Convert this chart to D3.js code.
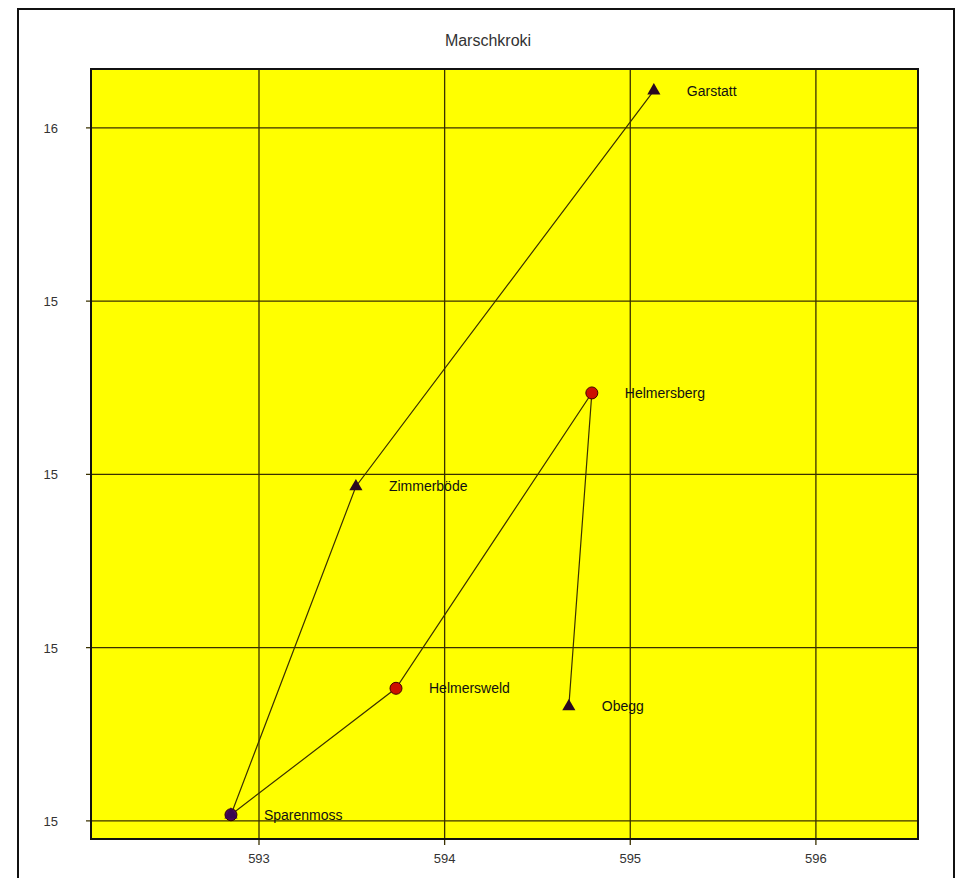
<!DOCTYPE html>
<html><head><meta charset="utf-8">
<script src="https://cdn.jsdelivr.net/npm/d3@7"></script>
<style>body{margin:0;background:#fff;}svg{display:block;}</style>
</head><body>
<svg id="c" width="962" height="878"></svg>
<script>
const title = "Marschkroki";
const names = ["Garstatt","Zimmerböde","Sparenmoss","Helmersweld","Helmersberg","Obegg"];
const xs = [595.127, 593.522, 592.849, 593.738, 594.793, 594.669];
const ys = [16.043, 15.586, 15.207, 15.353, 15.694, 15.332];
const kinds = ["triangle","triangle","both","circle","circle","triangle"];
const xTicks = [593, 594, 595, 596];
const xTickLabels = ["593","594","595","596"];
const yTicks = [15.2, 15.4, 15.6, 15.8, 16.0];
const yTickLabels = ["15","15","15","15","16"];

const svg = d3.select("#c");
const L = 91, R = 918, T = 69, B = 839;
const x = d3.scaleLinear().domain([592.095, 596.55]).range([L, R]);
const y = d3.scaleLinear().domain([15.179, 16.068]).range([B, T]);
const FONT = "Liberation Sans, Arial, sans-serif";

svg.append("rect").attr("x",18).attr("y",9).attr("width",936).attr("height",880)
  .attr("fill","#fff").attr("stroke","#111").attr("stroke-width",2);

svg.append("text").attr("x",488).attr("y",46).attr("text-anchor","middle")
  .attr("font-family",FONT).attr("font-size",16)
  .attr("fill","#333").text(title);

svg.append("rect").attr("x",L).attr("y",T).attr("width",R-L).attr("height",B-T)
  .attr("fill","#ffff00");

const g = svg.append("g");
g.selectAll(".gx").data(xTicks).join("line")
  .attr("x1",d=>x(d)).attr("x2",d=>x(d)).attr("y1",T).attr("y2",B+6)
  .attr("stroke","#3a3000").attr("stroke-width",1.3);
g.selectAll(".gy").data(yTicks).join("line")
  .attr("y1",d=>y(d)).attr("y2",d=>y(d)).attr("x1",L-5).attr("x2",R)
  .attr("stroke","#3a3000").attr("stroke-width",1.3);

svg.append("rect").attr("x",L).attr("y",T).attr("width",R-L).attr("height",B-T)
  .attr("fill","none").attr("stroke","#111").attr("stroke-width",2);

svg.selectAll(".xl").data(xTicks).join("text")
  .attr("x",d=>x(d)).attr("y",B+24).attr("text-anchor","middle")
  .attr("font-family",FONT).attr("font-size",13)
  .attr("fill","#333").text((d,i)=>xTickLabels[i]);
svg.selectAll(".yl").data(yTicks).join("text")
  .attr("x",58).attr("y",d=>y(d)+5).attr("text-anchor","end")
  .attr("font-family",FONT).attr("font-size",13)
  .attr("fill","#333").text((d,i)=>yTickLabels[i]);

const pts = names.map((n,i)=>({n, x:xs[i], y:ys[i], k:kinds[i]}));
svg.append("path").datum(pts)
  .attr("d", d3.line().x(d=>x(d.x)).y(d=>y(d.y)))
  .attr("fill","none").attr("stroke","#3a3000").attr("stroke-width",1.2);

const tri = d3.symbol().type(d3.symbolTriangle).size(75);
pts.forEach(p=>{
  const px = x(p.x), py = y(p.y);
  if (p.k==="circle") {
    svg.append("circle").attr("cx",px).attr("cy",py).attr("r",6)
      .attr("fill","#cc1100").attr("stroke","#400").attr("stroke-width",1);
  } else if (p.k==="triangle") {
    svg.append("path").attr("d",tri()).attr("transform",`translate(${px},${py})`)
      .attr("fill","#2a0820");
  } else {
    svg.append("circle").attr("cx",px).attr("cy",py).attr("r",6)
      .attr("fill","#4a0a5a").attr("stroke","#300").attr("stroke-width",1);
    svg.append("path").attr("d",tri()).attr("transform",`translate(${px},${py})`)
      .attr("fill","#3a0650");
  }
  svg.append("text").attr("x",px+33).attr("y",py+5)
    .attr("font-family",FONT).attr("font-size",14)
    .attr("fill","#111").text(p.n);
});
</script>
</body></html>
